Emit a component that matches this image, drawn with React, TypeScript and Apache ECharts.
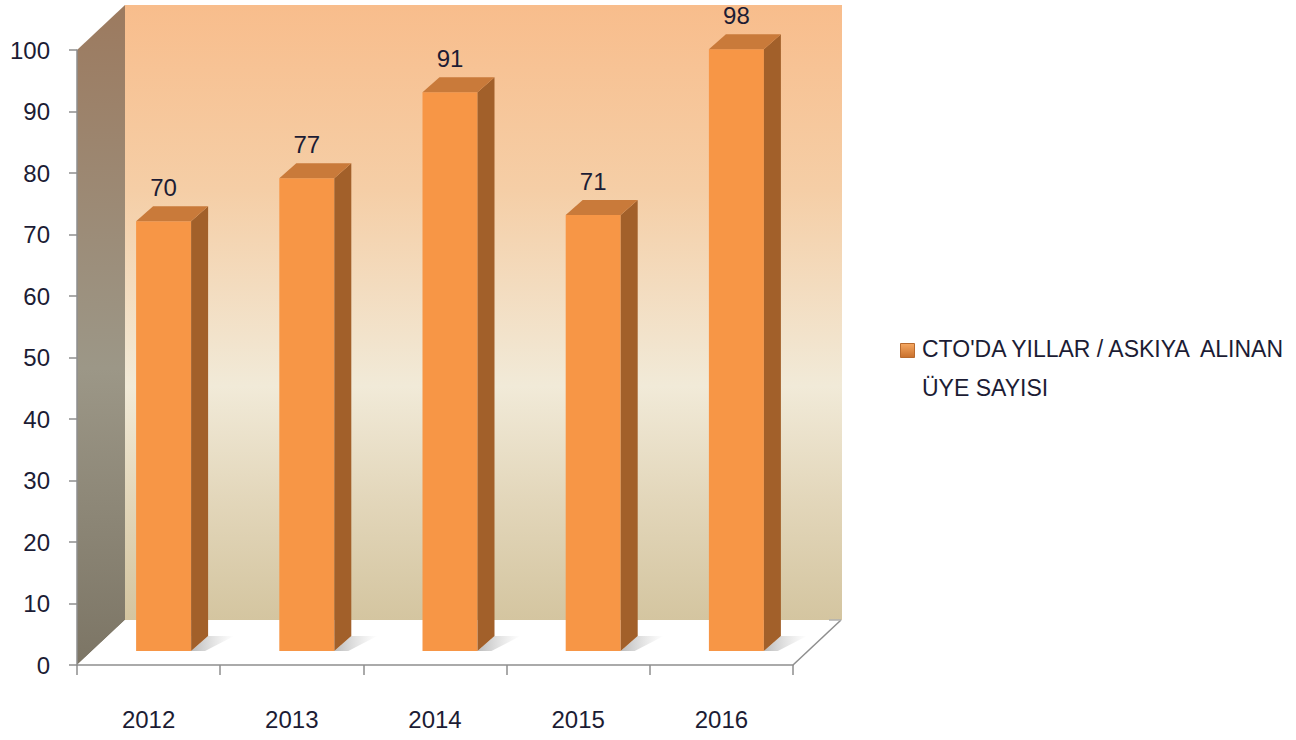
import React, { useEffect, useRef } from "react";
import * as echarts from "echarts";

const years: string[] = ["2012", "2013", "2014", "2015", "2016"];
const members: number[] = [70, 77, 91, 71, 98];
const yMin = 0;
const yMax = 100;
const yInterval = 10;
const seriesName = "CTO'DA YILLAR / ASKIYA ALINAN ÜYE SAYISI";
const legendLines: string[] = ["CTO'DA YILLAR / ASKIYA  ALINAN", "ÜYE SAYISI"];

const FONT = "'Liberation Sans', Arial, sans-serif";
const TEXT = "#1c1c34";
const AXIS = "#8e8e8e";

export default function App() {
  const ref = useRef<HTMLDivElement>(null);

  useEffect(() => {
    if (!ref.current) return;
    const chart = echarts.init(ref.current, null, { renderer: "svg" });

    const wallsRender = (params: any) => {
      const cs = params.coordSys;
      const L = cs.x, T = cs.y, R = cs.x + cs.width, B = cs.y + cs.height;
      const dx = 48, dy = 45;
      return {
        type: "group",
        silent: true,
        children: [
          {
            type: "rect",
            shape: { x: L + dx, y: T - dy, width: cs.width + 1, height: cs.height },
            style: {
              fill: new echarts.graphic.LinearGradient(0, 0, 0, 1, [
                { offset: 0, color: "#F8BD8C" },
                { offset: 0.3, color: "#F5CEA6" },
                { offset: 0.62, color: "#F1EAD8" },
                { offset: 0.8, color: "#E3D7BB" },
                { offset: 1, color: "#D4C5A0" },
              ]),
            },
          },
          {
            type: "polygon",
            shape: { points: [[L, B], [L, T], [L + dx, T - dy], [L + dx, B - dy]] },
            style: {
              fill: new echarts.graphic.LinearGradient(0, 0, 0, 1, [
                { offset: 0, color: "#9C7A5F" },
                { offset: 0.55, color: "#9C9787" },
                { offset: 1, color: "#7C7565" },
              ]),
            },
          },
          {
            type: "polygon",
            shape: { points: [[L, B], [L + dx, B - dy], [R + dx, B - dy], [R, B]] },
            style: { fill: "#ffffff" },
          },
          {
            type: "line",
            shape: { x1: R, y1: B, x2: R + dx, y2: B - dy },
            style: { stroke: AXIS, lineWidth: 1.5 },
          },
          {
            type: "line",
            shape: { x1: R + dx - 12, y1: B - dy, x2: R + dx, y2: B - dy },
            style: { stroke: "#b0b0b0", lineWidth: 1.5 },
          },
        ],
      };
    };

    const barsRender = (params: any, api: any) => {
      const idx = api.value(0);
      const v = api.value(1);
      const top = api.coord([idx, v]);
      const base = api.coord([idx, 0]);
      const w = 55, sx = 17, sy = 15;
      const x0 = top[0] - w / 2;
      const x1 = top[0] + w / 2;
      const ty = top[1];
      const by = base[1];
      return {
        type: "group",
        children: [
          {
            type: "polygon",
            shape: {
              points: [[x1, by], [x1 + sx, by - sy], [x1 + sx + 26, by - sy], [x1 + 14, by]],
            },
            style: {
              fill: new echarts.graphic.LinearGradient(0, 0, 1, 0, [
                { offset: 0, color: "rgba(120,120,120,0.5)" },
                { offset: 1, color: "rgba(160,160,160,0)" },
              ]),
            },
          },
          {
            type: "rect",
            shape: { x: x0, y: ty, width: w, height: by - ty },
            style: { fill: "#F79646" },
          },
          {
            type: "polygon",
            shape: { points: [[x1, ty], [x1 + sx, ty - sy], [x1 + sx, by - sy], [x1, by]] },
            style: { fill: "#A2602A" },
          },
          {
            type: "polygon",
            shape: { points: [[x0, ty], [x0 + sx, ty - sy], [x1 + sx, ty - sy], [x1, ty]] },
            style: { fill: "#C97A3A" },
          },
          {
            type: "text",
            style: {
              x: top[0],
              y: ty - 34,
              text: String(v),
              align: "center",
              verticalAlign: "middle",
              fontSize: 24,
              fontFamily: FONT,
              fill: TEXT,
            },
          },
        ],
      };
    };

    const option: any = {
      animation: false,
      backgroundColor: "#ffffff",
      grid: [
        { left: 77, top: 50, width: 716, height: 615 },
        { left: 92, top: 37, width: 716, height: 614 },
      ],
      xAxis: [
        {
          type: "category",
          gridIndex: 0,
          data: years,
          z: 5,
          axisLine: { show: true, lineStyle: { color: AXIS, width: 1.5 } },
          axisTick: { show: true, length: 10, lineStyle: { color: AXIS, width: 1.5 } },
          axisLabel: { margin: 42, fontSize: 24, color: TEXT, fontFamily: FONT },
          splitLine: { show: false },
        },
        { type: "category", gridIndex: 1, data: years, show: false },
      ],
      yAxis: [
        {
          type: "value",
          gridIndex: 0,
          min: yMin,
          max: yMax,
          interval: yInterval,
          z: 5,
          axisLine: { show: true, lineStyle: { color: AXIS, width: 1.5 } },
          axisTick: { show: true, length: 8, lineStyle: { color: AXIS, width: 1.5 } },
          axisLabel: { margin: 27, fontSize: 24, color: TEXT, fontFamily: FONT },
          splitLine: { show: false },
        },
        { type: "value", gridIndex: 1, min: yMin, max: yMax, show: false },
      ],
      series: [
        {
          type: "custom",
          name: "walls",
          xAxisIndex: 0,
          yAxisIndex: 0,
          z: 1,
          silent: true,
          data: [[0, 0]],
          renderItem: wallsRender,
        },
        {
          type: "custom",
          name: seriesName,
          xAxisIndex: 1,
          yAxisIndex: 1,
          z: 3,
          data: members.map((v, i) => [i, v]),
          encode: { x: 0, y: 1 },
          renderItem: barsRender,
        },
      ],
      graphic: [
        {
          type: "rect",
          left: 900,
          top: 343,
          shape: { width: 14, height: 14 },
          style: {
            fill: new echarts.graphic.LinearGradient(0, 0, 0, 1, [
              { offset: 0, color: "#F6A862" },
              { offset: 1, color: "#C8702C" },
            ]),
            stroke: "#B86A2E",
            lineWidth: 1,
          },
        },
        {
          type: "text",
          left: 922,
          top: 337,
          style: {
            text: legendLines[0],
            fontSize: 23,
            fontFamily: FONT,
            fill: TEXT,
          },
        },
        {
          type: "text",
          left: 922,
          top: 376,
          style: {
            text: legendLines[1],
            fontSize: 23,
            fontFamily: FONT,
            fill: TEXT,
          },
        },
      ],
    };

    chart.setOption(option);
    return () => chart.dispose();
  }, []);

  return (
    <div
      ref={ref}
      style={{ position: "fixed", left: 0, top: 0, width: 1296, height: 740 }}
    />
  );
}
